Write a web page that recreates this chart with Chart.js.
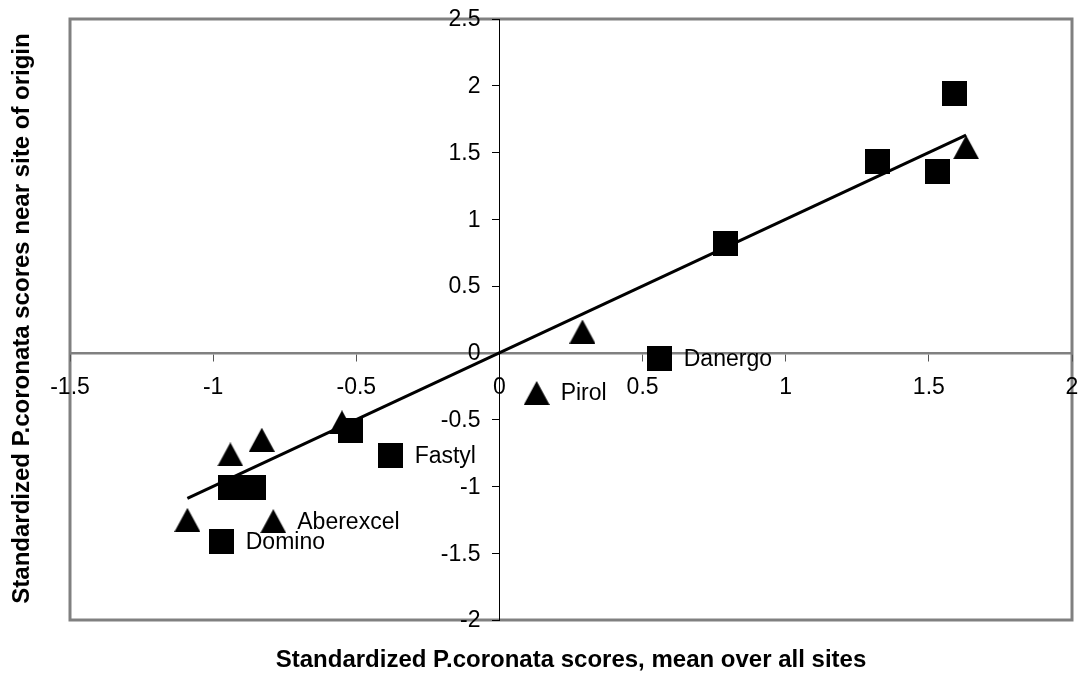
<!DOCTYPE html>
<html>
<head>
<meta charset="utf-8">
<title>P.coronata scores</title>
<script src="https://cdn.jsdelivr.net/npm/chart.js@4.4.1/dist/chart.umd.min.js"></script>
<style>
  html, body { margin: 0; padding: 0; background: #fff; }
  #wrap { width: 1085px; height: 677px; }
</style>
</head>
<body>
<div id="wrap"><canvas id="scoreChart" width="1085" height="677"></canvas></div>
<script>
// Square markers
const squareX = [1.59, 1.32, 1.53, 0.79, 0.56, -0.52, -0.38, -0.94, -0.86, -0.97];
const squareY = [1.94, 1.43, 1.36, 0.82, -0.04, -0.58, -0.77, -1.01, -1.01, -1.41];
const squareNames = ["", "", "", "", "Danergo", "", "Fastyl", "", "", "Domino"];

// Triangle markers
const triangleX = [1.63, 0.29, 0.13, -0.55, -0.83, -0.94, -1.09, -0.79];
const triangleY = [1.54, 0.16, -0.30, -0.52, -0.65, -0.76, -1.25, -1.26];
const triangleNames = ["", "", "Pirol", "", "", "", "", "Aberexcel"];

// Fitted line (two end points)
const trendX = [-1.09, 1.63];
const trendY = [-1.09, 1.63];

// Axis ticks and titles
const xTickLabels = ["-1.5", "-1", "-0.5", "0", "0.5", "1", "1.5", "2"];
const yTickLabels = ["-2", "-1.5", "-1", "-0.5", "0", "0.5", "1", "1.5", "2", "2.5"];
const xTitle = "Standardized P.coronata scores, mean over all sites";
const yTitle = "Standardized P.coronata scores near site of origin";

const FONT = "'Liberation Sans', Arial, sans-serif";
const LABEL_SIZE = 23;
Chart.defaults.font.family = FONT;
Chart.defaults.font.size = LABEL_SIZE;
Chart.defaults.color = "#000";

// small canvases used as point styles, centred on the point
function makeMarker(shape, w, h) {
  const c = document.createElement("canvas");
  c.width = w;
  c.height = h;
  const g = c.getContext("2d");
  g.fillStyle = "#000";
  if (shape === "square") {
    g.fillRect(0, 0, w, h);
  } else {
    g.beginPath();
    g.moveTo(w / 2, 0);
    g.lineTo(w, h);
    g.lineTo(0, h);
    g.closePath();
    g.fill();
  }
  return c;
}

const toPoints = (xs, ys) => xs.map((x, i) => ({ x, y: ys[i] }));

// gray frame round the plot area
const framePlugin = {
  id: "frame",
  beforeDraw(chart) {
    const { ctx, chartArea: a } = chart;
    ctx.save();
    ctx.strokeStyle = "#808080";
    ctx.lineWidth = 3;
    ctx.strokeRect(a.left, a.top, a.right - a.left, a.bottom - a.top);
    ctx.restore();
  },
};

// y tick labels: Chart.js puts them on the axis line when the axis is
// positioned at x = 0, so they are written here with a gap instead
const yLabelsPlugin = {
  id: "yLabels",
  afterDraw(chart) {
    const { ctx } = chart;
    const xAxis = chart.scales.x;
    const yAxis = chart.scales.y;
    const right = xAxis.getPixelForValue(0) - 19;
    ctx.save();
    ctx.font = LABEL_SIZE + "px " + FONT;
    ctx.fillStyle = "#000";
    ctx.textAlign = "right";
    ctx.textBaseline = "middle";
    yAxis.ticks.forEach((t, i) => {
      ctx.fillText(yTickLabels[i], right, yAxis.getPixelForValue(t.value) + 1);
    });
    ctx.restore();
  },
};

// names written to the right of some points
const pointNamesPlugin = {
  id: "pointNames",
  afterDatasetsDraw(chart) {
    const { ctx } = chart;
    ctx.save();
    ctx.font = LABEL_SIZE + "px " + FONT;
    ctx.fillStyle = "#000";
    ctx.textAlign = "left";
    ctx.textBaseline = "middle";
    chart.data.datasets.forEach((ds, i) => {
      if (!ds.names) return;
      chart.getDatasetMeta(i).data.forEach((pt, j) => {
        if (ds.names[j]) ctx.fillText(ds.names[j], pt.x + 24, pt.y + 1);
      });
    });
    ctx.restore();
  },
};

// axis titles sit outside the frame, so draw them here
const axisTitlesPlugin = {
  id: "axisTitles",
  afterDraw(chart) {
    const { ctx, chartArea: a } = chart;
    ctx.save();
    ctx.font = "bold 24px " + FONT;
    ctx.fillStyle = "#000";
    ctx.textAlign = "center";
    ctx.textBaseline = "middle";
    ctx.fillText(xTitle, (a.left + a.right) / 2, 660);
    ctx.translate(22, (a.top + a.bottom) / 2 - 1);
    ctx.rotate(-Math.PI / 2);
    ctx.fillText(yTitle, 0, 0);
    ctx.restore();
  },
};

const noPadding = (scale) => {
  scale.paddingLeft = 0;
  scale.paddingRight = 0;
  scale.paddingTop = 0;
  scale.paddingBottom = 0;
};

const ctx = document.getElementById("scoreChart").getContext("2d");

new Chart(ctx, {
  type: "scatter",
  data: {
    datasets: [
      {
        label: "squares",
        data: toPoints(squareX, squareY),
        names: squareNames,
        pointStyle: makeMarker("square", 25, 25),
        pointRadius: 12,
        pointHoverRadius: 12,
      },
      {
        label: "triangles",
        data: toPoints(triangleX, triangleY),
        names: triangleNames,
        pointStyle: makeMarker("triangle", 26, 24),
        pointRadius: 12,
        pointHoverRadius: 12,
      },
      {
        label: "fit",
        type: "line",
        data: toPoints(trendX, trendY),
        showLine: true,
        borderColor: "#000",
        borderWidth: 3,
        pointRadius: 0,
        fill: false,
      },
    ],
  },
  options: {
    responsive: false,
    animation: false,
    layout: { padding: { left: 70, top: 19, right: 6, bottom: 57 } },
    plugins: {
      legend: { display: false },
      tooltip: { enabled: false },
    },
    scales: {
      x: {
        type: "linear",
        position: { y: 0 },
        min: -1.5,
        max: 2,
        afterFit: noPadding,
        ticks: {
          stepSize: 0.5,
          padding: 14,
          maxRotation: 0,
          callback: (v, i) => xTickLabels[i],
        },
        grid: {
          drawOnChartArea: false,
          drawTicks: true,
          tickLength: 7,
          tickColor: "#555",
          tickWidth: 1,
        },
        border: { color: "#808080", width: 2.5 },
      },
      y: {
        type: "linear",
        position: { x: 0 },
        min: -2,
        max: 2.5,
        afterFit: noPadding,
        ticks: {
          stepSize: 0.5,
          display: false,
        },
        grid: {
          drawOnChartArea: false,
          drawTicks: true,
          tickLength: 7,
          tickColor: "#000",
          tickWidth: 1,
        },
        border: { color: "#000", width: 1 },
      },
    },
  },
  plugins: [framePlugin, yLabelsPlugin, pointNamesPlugin, axisTitlesPlugin],
});
</script>
</body>
</html>
